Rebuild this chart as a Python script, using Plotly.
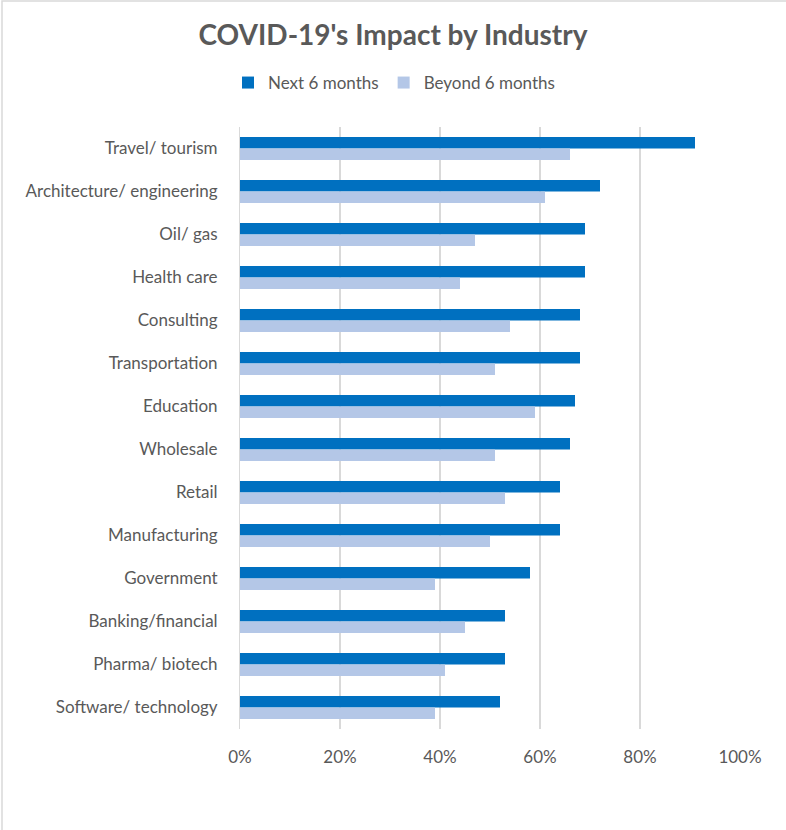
import plotly.graph_objects as go

categories = ["Travel/ tourism", "Architecture/ engineering", "Oil/ gas", "Health care",
              "Consulting", "Transportation", "Education", "Wholesale", "Retail",
              "Manufacturing", "Government", "Banking/financial", "Pharma/ biotech",
              "Software/ technology"]
next_6 = [0.91, 0.72, 0.69, 0.69, 0.68, 0.68, 0.67, 0.66, 0.64, 0.64, 0.58, 0.53, 0.53, 0.52]
beyond_6 = [0.66, 0.61, 0.47, 0.44, 0.54, 0.51, 0.59, 0.51, 0.53, 0.50, 0.39, 0.45, 0.41, 0.39]
tick_vals = [0, 0.2, 0.4, 0.6, 0.8, 1.0]
tick_text = ["0%", "20%", "40%", "60%", "80%", "100%"]

grey = "#595959"
font_family = "Lato, 'Open Sans', sans-serif"

fig = go.Figure()
fig.add_trace(go.Bar(y=categories, x=next_6, name="Next 6 months", orientation="h",
                     marker=dict(color="#0070C0", line=dict(width=0))))
fig.add_trace(go.Bar(y=categories, x=beyond_6, name="Beyond 6 months", orientation="h",
                     marker=dict(color="#B4C7E7", line=dict(width=0))))

L, R, T, B = 240, 46, 127, 101
W, H = 786, 830
pw, ph = W - L - R, H - T - B

fig.update_layout(
    width=W, height=H,
    margin=dict(l=L, r=R, t=T, b=B),
    paper_bgcolor="white", plot_bgcolor="white",
    barmode="group", bargap=0.47, bargroupgap=0,
    font=dict(family=font_family, color=grey, size=17),
    title=dict(text="<b>COVID-19's Impact by Industry</b>", x=0.5, xanchor="center",
               xref="container", y=1 - 35 / H, yanchor="middle",
               font=dict(size=28, color=grey, family=font_family)),
    legend=dict(orientation="h", x=(394 - L) / pw, xanchor="center",
                y=1 + (T - 83) / ph, yanchor="middle",
                font=dict(size=17, color=grey), traceorder="normal",
                itemwidth=30),
    showlegend=True,
    xaxis=dict(range=[0, 1.0], tickvals=tick_vals, ticktext=tick_text,
               showgrid=True, gridcolor="#D9D9D9", gridwidth=1.5,
               zeroline=False, showline=False, ticks="", ticklen=0,
               ticklabelstandoff=16,
               tickfont=dict(size=17, color=grey)),
    yaxis=dict(autorange="reversed", showgrid=False, zeroline=False,
               showline=True, linecolor="#D9D9D9", linewidth=1,
               ticks="", ticklabelstandoff=18,
               tickfont=dict(size=17, color=grey)),
    shapes=[dict(type="rect", xref="paper", yref="paper",
                 x0=(2 - L) / pw, x1=(W + 10 - L) / pw,
                 y0=-(B + 10) / ph, y1=1 + (T - 1) / ph,
                 line=dict(color="#D9D9D9", width=1.5), fillcolor="rgba(0,0,0,0)",
                 layer="below")],
)

fig.write_html("out.html")
